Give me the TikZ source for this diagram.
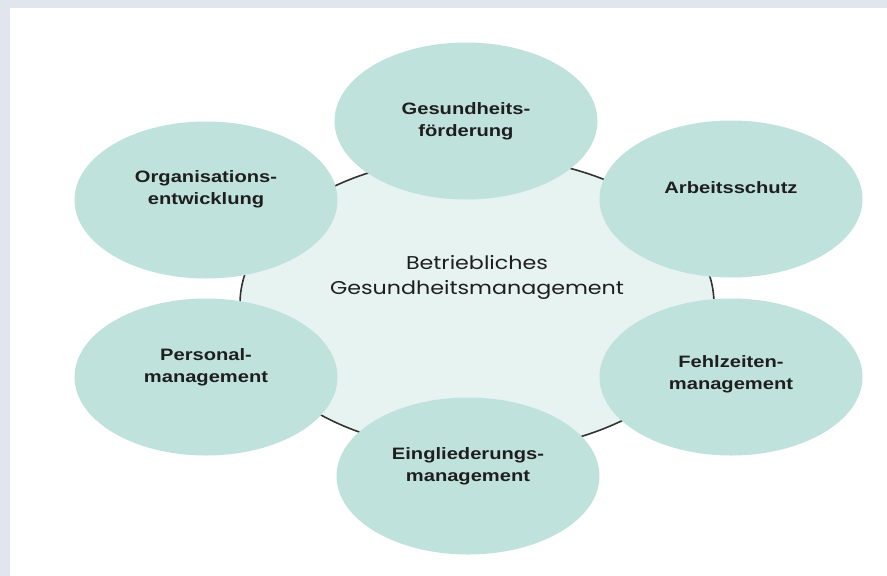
\documentclass[tikz,border=0pt]{standalone}
\usepackage{fontspec}
\setmainfont{Liberation Sans}
\newfontfamily\hubfont{Poppins}
\usetikzlibrary{shapes.geometric,positioning}
\definecolor{bubblefill}{RGB}{192,226,221}
\definecolor{hubfill}{RGB}{230,243,241}
\definecolor{framegrey}{RGB}{225,229,238}
\definecolor{textgrey}{RGB}{30,30,30}
\tikzset{
    every picture/.style={x=1pt,y=-1pt},
    hub/.style={ellipse,draw=black!80,line width=1.6pt,fill=hubfill,
        minimum width=474pt,minimum height=295pt,inner sep=0pt},
    bubble/.style={ellipse,fill=bubblefill,minimum width=263pt,
        minimum height=157pt,inner sep=0pt},
    bubbletext/.style={font=\bfseries\fontsize{16.5}{22}\selectfont,
        align=center,text=textgrey,xscale=1.22},
    hubtext/.style={font=\hubfont\fontsize{18.5}{25}\selectfont,
        align=center,text=textgrey,xscale=1.2}
}

\begin{document}
\begin{tikzpicture}
    \useasboundingbox (0,0) rectangle (887,576);
    \fill[framegrey] (0,0) rectangle (887,576);
    \fill[white] (9.5,8) rectangle (887,576);
    \node[hub,label={[hubtext,yshift=27pt]center:{Betriebliches\\Gesundheitsmanagement}}]
        (0) at (477,304) {};
    \node[bubble,label={[bubbletext]center:{Gesundheits-\\förderung}}]
        (1) at (466,121) {};
    \node[bubble,label={[bubbletext,yshift=11pt]center:Arbeitsschutz}]
        (2) at (731,199) {};
    \node[bubble,label={[bubbletext,yshift=3pt]center:{Fehlzeiten-\\management}}]
        (3) at (731,377) {};
    \node[bubble,label={[bubbletext,yshift=10pt]center:{Eingliederungs-\\management}}]
        (4) at (468,476) {};
    \node[bubble,label={[bubbletext,yshift=10pt]center:{Personal-\\management}}]
        (5) at (206,377) {};
    \node[bubble,label={[bubbletext,yshift=11pt]center:{Organisations-\\entwicklung}}]
        (6) at (206,200) {};
\end{tikzpicture}
\end{document}
